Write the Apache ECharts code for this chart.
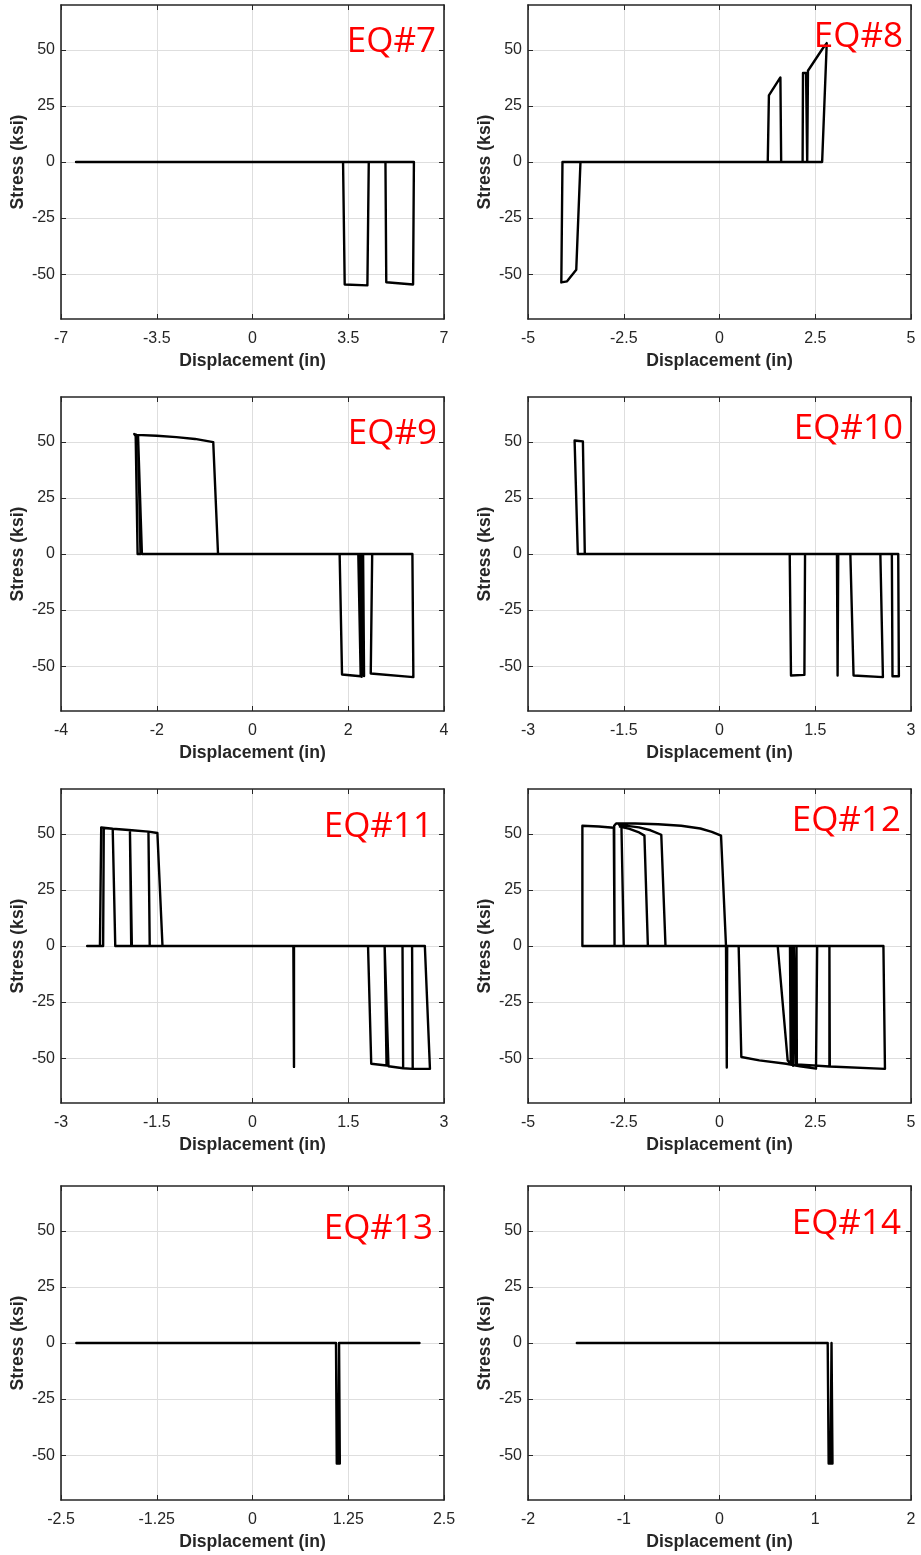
<!DOCTYPE html>
<html>
<head>
<meta charset="utf-8">
<script src="https://cdn.jsdelivr.net/npm/echarts@6/dist/echarts.min.js"></script>
<style>
  html, body { margin: 0; padding: 0; background: #ffffff; }
  #chart { width: 921px; height: 1555px; }
</style>
</head>
<body>
<div id="chart"></div>
<script>
// Panel captions, one per earthquake record
const panelTitles = ['EQ#7', 'EQ#8', 'EQ#9', 'EQ#10', 'EQ#11', 'EQ#12', 'EQ#13', 'EQ#14'];

// Displacement axis extent and tick step for each panel (in)
const dispMin  = [-7, -5, -4, -3, -3, -5, -2.5, -2];
const dispMax  = [ 7,  5,  4,  3,  3,  5,  2.5,  2];
const dispStep = [3.5, 2.5, 2, 1.5, 1.5, 2.5, 1.25, 1];

// Stress axis (ksi)
const stressMin = -70;
const stressMax = 70;
const stressTicks = [-50, -25, 0, 25, 50];

// Stress–displacement histories [displacement (in), stress (ksi)]
const eq7 = [
  [-6.45, 0], [3.31, 0], [3.37, -54.6], [4.20, -55.0], [4.25, 0],
  [4.86, 0], [4.89, -53.6], [5.87, -54.6], [5.90, 0], [-6.45, 0]
];
const eq8 = [
  [0, 0], [1.26, 0], [1.29, 29.7], [1.59, 37.7], [1.61, 0],
  [2.17, 0], [2.18, 39.7], [2.26, 39.7], [2.29, 0], [2.30, 0],
  [2.31, 40.7], [2.69, 50.5], [2.80, 53.0], [2.82, 52.4], [2.68, 0],
  [-3.63, 0], [-3.74, -48.0], [-3.98, -53.2], [-4.13, -53.7], [-4.10, 0], [0, 0]
];
const eq9 = [
  [0, 0], [1.82, 0], [1.87, -53.7], [2.26, -54.5], [2.21, 0],
  [2.24, 0], [2.28, -54.7], [2.26, 0], [2.29, 0], [2.33, -54.4], [2.31, 0],
  [2.50, 0], [2.47, -53.3], [3.36, -54.9], [3.34, 0],
  [-0.72, 0], [-0.82, 49.9], [-1.20, 51.3], [-1.59, 52.1], [-2.00, 52.7],
  [-2.42, 53.1], [-2.47, 53.5], [-2.44, 52.6], [-2.40, 0], [-2.34, 0],
  [-2.39, 52.4], [-2.42, 52.9], [-2.37, 52.0], [-2.31, 0], [0, 0]
];
const eq10 = [
  [0, 0], [1.10, 0], [1.12, -54.2], [1.33, -53.9], [1.34, 0],
  [1.84, 0], [1.85, -54.2], [1.86, 0], [2.05, 0], [2.10, -54.2],
  [2.56, -54.9], [2.52, 0], [2.70, 0], [2.71, -54.5], [2.81, -54.5], [2.80, 0],
  [-2.11, 0], [-2.14, 50.2], [-2.27, 50.6], [-2.22, 0], [0, 0]
];
const eq11 = [
  [0, 0], [0.64, 0], [0.65, -53.9], [0.65, 0],
  [1.81, 0], [1.86, -52.5], [2.10, -53.3], [2.07, 0],
  [2.10, 0], [2.13, -53.6], [2.36, -54.5], [2.35, 0],
  [2.34, 0], [2.36, -54.5], [2.51, -54.8], [2.50, 0],
  [2.49, 0], [2.51, -54.8], [2.78, -54.7], [2.70, 0],
  [-1.41, 0], [-1.49, 50.4], [-1.63, 51.0], [-1.89, 51.6], [-2.19, 52.3],
  [-2.37, 52.9], [-2.39, 0], [-2.59, 0], [-2.34, 0], [-2.33, 52.6],
  [-2.19, 52.3], [-2.15, 0], [-1.89, 0], [-1.92, 51.6], [-1.90, 0],
  [-1.61, 0], [-1.63, 51.0], [-1.61, 0], [0, 0]
];
const eq12 = [
  [0, 0], [0.17, 0], [0.19, -54.2], [0.20, 0],
  [0.50, 0], [0.57, -49.5], [1.04, -51.0], [1.74, -52.5], [2.10, -53.6],
  [2.52, -54.7], [2.55, 0], [1.52, 0], [1.78, -51.0], [1.86, -52.5], [1.84, 0],
  [1.90, 0], [1.92, -53.4], [1.94, 0], [1.97, 0], [1.99, -53.0], [2.01, 0],
  [2.02, -52.8], [2.87, -53.7], [2.87, 0], [2.88, -53.7], [4.32, -54.8], [4.28, 0],
  [-3.58, 0], [-3.58, 53.6], [-3.15, 53.3], [-2.76, 52.7], [-2.74, 0],
  [-2.75, 53.6], [-2.70, 54.6], [-2.20, 54.6], [-1.60, 54.3], [-1.00, 53.6],
  [-0.50, 52.4], [-0.20, 50.9], [0.04, 49.2], [0.17, 0],
  [-1.41, 0], [-1.52, 49.6], [-1.80, 51.6], [-2.10, 52.9], [-2.62, 54.0], [-2.56, 53.2], [-2.50, 0],
  [-1.87, 0], [-1.96, 49.2], [-2.12, 50.8], [-2.35, 52.2], [-2.60, 53.2]
];
const eq13 = [
  [-2.30, 0], [1.09, 0], [1.10, -53.7], [1.14, -53.7], [1.13, 0],
  [1.11, 0], [1.12, -53.7], [1.13, 0], [2.18, 0]
];
const eq14 = [
  [-1.49, 0], [1.13, 0], [1.14, -53.7], [1.18, -53.7], [1.17, 0],
  [1.15, 0], [1.16, -53.7], [1.17, 0]
];
const histories = [eq7, eq8, eq9, eq10, eq11, eq12, eq13, eq14];

// Page layout of the 4 x 2 panel grid (px)
const colLeft = [61, 528];
const rowTop = [5, 397, 789, 1186];
const plotW = 383;
const plotH = 314;
// Caption anchors: right edge and vertical middle
const captionRight = [436, 903, 437, 903, 433, 901, 433, 901];
const captionMid = [42, 37, 434, 429, 827, 821, 1229, 1224];

const ink = '#262626';
const gridGray = '#dedede';
const tickFont = 'Liberation Sans, Arial, Helvetica, sans-serif';

const grids = [], xAxes = [], yAxes = [], series = [], graphics = [];
const mirrorX = [], mirrorY = [];

histories.forEach((data, i) => {
  const col = i % 2, row = Math.floor(i / 2);
  grids.push({ left: colLeft[col], top: rowTop[row], width: plotW, height: plotH, containLabel: false });

  const frame = { show: true, onZero: false, lineStyle: { color: ink, width: 1.6 } };
  const tick = { show: true, inside: true, length: 5, lineStyle: { color: ink, width: 1 } };

  xAxes.push({
    gridIndex: i, type: 'value', position: 'bottom',
    min: dispMin[i], max: dispMax[i], interval: dispStep[i],
    axisLine: frame, axisTick: tick,
    axisLabel: { color: ink, fontSize: 16, fontFamily: tickFont, margin: 12, showMinLabel: true, showMaxLabel: true },
    splitLine: { show: true, lineStyle: { color: gridGray, width: 1 } },
    name: 'Displacement (in)', nameLocation: 'middle', nameGap: 33,
    nameTextStyle: { color: ink, fontSize: 17.6, fontWeight: 'bold', fontFamily: tickFont }
  });
  mirrorX.push({
    gridIndex: i, type: 'value', position: 'top',
    min: dispMin[i], max: dispMax[i], interval: dispStep[i],
    axisLine: frame, axisTick: tick,
    axisLabel: { show: false }, splitLine: { show: false }
  });
  yAxes.push({
    gridIndex: i, type: 'value', position: 'left',
    min: stressMin, max: stressMax,
    axisLine: frame,
    axisTick: Object.assign({ customValues: stressTicks }, tick),
    axisLabel: { color: ink, fontSize: 16, fontFamily: tickFont, margin: 6, customValues: stressTicks },
    splitLine: { show: true, lineStyle: { color: gridGray, width: 1 } },
    name: 'Stress (ksi)', nameLocation: 'middle', nameGap: 34, nameRotate: 90,
    nameTextStyle: { color: ink, fontSize: 17.6, fontWeight: 'bold', fontFamily: tickFont }
  });
  mirrorY.push({
    gridIndex: i, type: 'value', position: 'right',
    min: stressMin, max: stressMax,
    axisLine: frame,
    axisTick: Object.assign({ customValues: stressTicks }, tick),
    axisLabel: { show: false, customValues: stressTicks }, splitLine: { show: false }
  });

  series.push({
    type: 'line', xAxisIndex: i, yAxisIndex: i,
    data: data, showSymbol: false, symbol: 'none', clip: true,
    lineStyle: { color: '#000000', width: 2.4, join: 'round', cap: 'round' },
    silent: true
  });

  graphics.push({
    type: 'text', x: captionRight[i], y: captionMid[i], z: 100,
    style: {
      text: panelTitles[i], fill: '#ff0000',
      fontSize: 35, fontFamily: 'Open Sans, Noto Sans, sans-serif',
      align: 'right', verticalAlign: 'middle'
    }
  });
});

const chart = echarts.init(document.getElementById('chart'), null, { renderer: 'canvas' });
chart.setOption({
  animation: false,
  backgroundColor: '#ffffff',
  grid: grids,
  xAxis: xAxes.concat(mirrorX),
  yAxis: yAxes.concat(mirrorY),
  series: series,
  graphic: graphics
});
</script>
</body>
</html>
